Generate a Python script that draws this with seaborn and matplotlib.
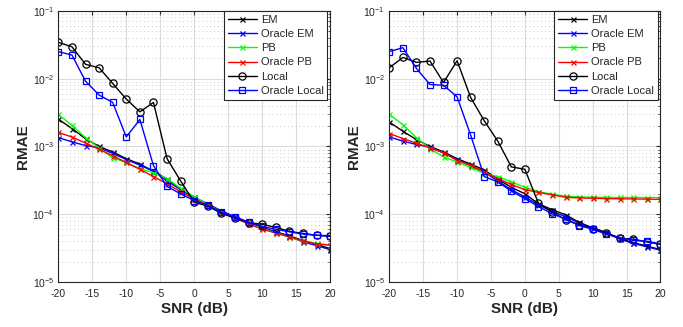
import numpy as np
import pandas as pd
import matplotlib
matplotlib.use("Agg")
import matplotlib.pyplot as plt
import seaborn as sns
from matplotlib.ticker import LogLocator, FixedLocator, NullFormatter

snr = [-20, -18, -16, -14, -12, -10, -8, -6, -4, -2, 0, 2, 4, 6, 8, 10, 12, 14, 16, 18, 20]
series_names = ["EM", "Oracle EM", "PB", "Oracle PB", "Local", "Oracle Local"]

left_em = [2.53e-3, 1.84e-3, 1.30e-3, 1.0e-3, 8.3e-4, 6.6e-4, 5.5e-4, 4.3e-4, 3.3e-4, 2.35e-4, 1.75e-4, 1.40e-4, 1.10e-4, 9.0e-5, 7.5e-5, 6.3e-5, 5.5e-5, 4.8e-5, 4.1e-5, 3.6e-5, 3.1e-5]
left_oem = [1.35e-3, 1.17e-3, 1.03e-3, 9.6e-4, 7.9e-4, 6.4e-4, 5.3e-4, 4.3e-4, 3.1e-4, 2.3e-4, 1.78e-4, 1.42e-4, 1.12e-4, 9.2e-5, 7.6e-5, 6.4e-5, 5.5e-5, 4.7e-5, 3.9e-5, 3.45e-5, 3.0e-5]
left_pb = [2.97e-3, 2.05e-3, 1.35e-3, 9.5e-4, 6.8e-4, 5.8e-4, 4.7e-4, 4.1e-4, 3.35e-4, 2.4e-4, 1.8e-4, 1.38e-4, 1.08e-4, 8.8e-5, 7.3e-5, 6.2e-5, 5.3e-5, 4.6e-5, 4.0e-5, 3.7e-5, 3.5e-5]
left_opb = [1.61e-3, 1.38e-3, 1.12e-3, 9.1e-4, 7.3e-4, 5.8e-4, 4.6e-4, 3.6e-4, 2.8e-4, 2.15e-4, 1.68e-4, 1.35e-4, 1.05e-4, 8.7e-5, 7.2e-5, 6.0e-5, 5.3e-5, 4.6e-5, 4.05e-5, 3.65e-5, 3.5e-5]
left_local = [0.0344, 0.0296, 0.0163, 0.0145, 0.0085, 0.0050, 0.00324, 0.00446, 0.00066, 0.00031, 0.00015, 0.000132, 0.000103, 8.8e-5, 7.5e-5, 7.1e-5, 6.4e-5, 5.6e-5, 5.2e-5, 4.9e-5, 4.8e-5]
left_olocal = [0.0251, 0.0223, 0.0092, 0.00574, 0.00446, 0.00138, 0.0025, 0.00052, 0.000257, 0.0002, 0.000159, 0.000135, 0.000107, 9.0e-5, 7.6e-5, 6.6e-5, 6.0e-5, 5.5e-5, 5.1e-5, 4.9e-5, 4.7e-5]

right_em = [2.29e-3, 1.68e-3, 1.26e-3, 1.0e-3, 8.3e-4, 6.6e-4, 5.5e-4, 4.5e-4, 3.3e-4, 2.5e-4, 2.0e-4, 1.43e-4, 1.17e-4, 9.8e-5, 7.6e-5, 6.3e-5, 5.4e-5, 4.4e-5, 3.8e-5, 3.4e-5, 3.0e-5]
right_oem = [1.38e-3, 1.20e-3, 1.07e-3, 9.8e-4, 8.0e-4, 6.4e-4, 5.2e-4, 4.2e-4, 3.1e-4, 2.3e-4, 1.8e-4, 1.38e-4, 1.10e-4, 9.2e-5, 7.4e-5, 6.2e-5, 5.3e-5, 4.3e-5, 3.7e-5, 3.3e-5, 2.95e-5]
right_pb = [2.97e-3, 2.10e-3, 1.35e-3, 9.3e-4, 7.0e-4, 5.9e-4, 4.9e-4, 4.0e-4, 3.6e-4, 3.0e-4, 2.5e-4, 2.15e-4, 1.97e-4, 1.85e-4, 1.8e-4, 1.78e-4, 1.77e-4, 1.77e-4, 1.77e-4, 1.76e-4, 1.76e-4]
right_opb = [1.55e-3, 1.31e-3, 1.12e-3, 9.5e-4, 8.1e-4, 6.2e-4, 5.3e-4, 4.2e-4, 3.35e-4, 2.75e-4, 2.3e-4, 2.1e-4, 1.93e-4, 1.78e-4, 1.74e-4, 1.72e-4, 1.70e-4, 1.69e-4, 1.68e-4, 1.67e-4, 1.66e-4]
right_local = [0.0145, 0.0206, 0.0174, 0.0182, 0.0088, 0.0184, 0.00528, 0.0024, 0.0012, 0.0005, 0.00046, 0.000145, 0.000108, 8.3e-5, 7.0e-5, 6.1e-5, 5.2e-5, 4.4e-5, 4.3e-5, 3.9e-5, 3.6e-5]
right_olocal = [0.0251, 0.0287, 0.0142, 0.0082, 0.0080, 0.0054, 0.00147, 0.00036, 0.0003, 0.00022, 0.00017, 0.00013, 0.000102, 8.5e-5, 6.8e-5, 6.0e-5, 5.1e-5, 4.5e-5, 4.1e-5, 4.0e-5, 3.65e-5]

x_ticks = [-20, -15, -10, -5, 0, 5, 10, 15, 20]
x_label = "SNR (dB)"
y_label = "RMAE"

colors = ["#000000", "#0000ff", "#00ff00", "#ff0000", "#000000", "#0000ff"]
markers = ["x", "x", "x", "x", "o", "s"]
msizes = [3.6, 3.6, 3.6, 3.6, 5.2, 4.4]

sns.set_theme(style="white")
plt.rcParams["font.family"] = ["Liberation Sans", "DejaVu Sans"]
plt.rcParams["axes.unicode_minus"] = False
plt.rcParams["mathtext.fontset"] = "custom"
plt.rcParams["mathtext.rm"] = "Liberation Sans"
plt.rcParams["mathtext.it"] = "Liberation Sans:italic"
plt.rcParams["mathtext.bf"] = "Liberation Sans:bold"

fig = plt.figure(figsize=(6.83, 3.27), dpi=100)
axL = fig.add_axes([0.0854, 0.1376, 0.398, 0.829])
axR = fig.add_axes([0.570, 0.1376, 0.397, 0.829])

panels = [
    (axL, [left_em, left_oem, left_pb, left_opb, left_local, left_olocal]),
    (axR, [right_em, right_oem, right_pb, right_opb, right_local, right_olocal]),
]

for ax, data in panels:
    for name, vals, c, m, ms in zip(series_names, data, colors, markers, msizes):
        df = pd.DataFrame({"SNR": snr, "RMAE": vals})
        sns.lineplot(data=df, x="SNR", y="RMAE", ax=ax, color=c, marker=m,
                     markersize=ms, markerfacecolor="none", markeredgecolor=c,
                     markeredgewidth=0.9, linewidth=1.0, label=name)
    ax.set_yscale("log")
    ax.set_xlim(-20, 20)
    ax.set_ylim(1e-5, 1e-1)
    ax.xaxis.set_major_locator(FixedLocator(x_ticks))
    ax.set_xticklabels([str(t) for t in x_ticks])
    ax.yaxis.set_major_locator(LogLocator(base=10, numticks=10))
    ax.yaxis.set_minor_locator(LogLocator(base=10, subs=np.arange(2, 10), numticks=20))
    ax.yaxis.set_minor_formatter(NullFormatter())
    ax.grid(True, which="major", axis="both", color="#dcdcdc", linewidth=0.8, linestyle="-")
    ax.grid(True, which="minor", axis="y", color="#c8c8c8", linewidth=0.7, linestyle=(0, (1, 3)))
    ax.set_axisbelow(True)
    ax.tick_params(axis="both", which="both", direction="in", top=True, right=True,
                   labelsize=7.5, colors="#262626")
    ax.tick_params(axis="x", which="major", pad=5)
    ax.tick_params(axis="y", which="major", pad=3)
    ax.tick_params(axis="both", which="major", length=3, width=0.8)
    ax.tick_params(axis="y", which="minor", length=1.8, width=0.6)
    for s in ax.spines.values():
        s.set_color("#262626")
        s.set_linewidth(0.8)
    ax.set_xlabel(x_label, fontsize=11, fontweight="bold", color="#262626", labelpad=2)
    ax.set_ylabel(y_label, fontsize=11, fontweight="bold", color="#262626", labelpad=2)
    leg = ax.legend(loc="upper right", bbox_to_anchor=(0.99, 1.0), fontsize=8,
                    frameon=True, fancybox=False, framealpha=1.0, edgecolor="#262626",
                    handlelength=2.6, handletextpad=0.35, labelspacing=0.38,
                    borderpad=0.35, borderaxespad=0.0)
    leg.get_frame().set_linewidth(0.8)

fig.savefig("out.png", dpi=100)
